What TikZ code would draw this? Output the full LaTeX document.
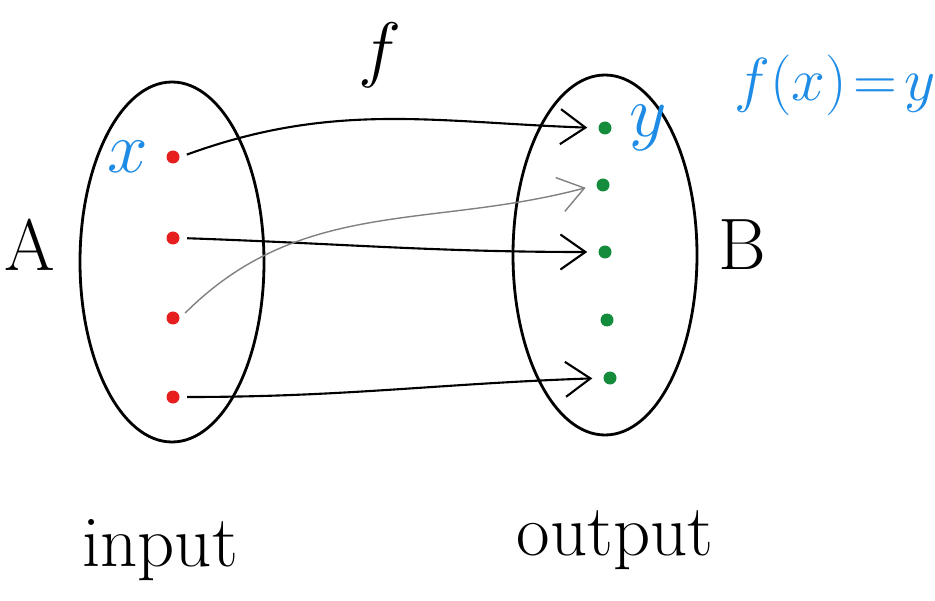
\documentclass[tikz,border=0pt]{standalone}
\usetikzlibrary{arrows.meta,positioning,shapes.geometric}
\definecolor{penblue}{RGB}{30,140,230}
\definecolor{penred}{RGB}{230,30,30}
\definecolor{pengreen}{RGB}{20,140,60}

\begin{document}
\begin{tikzpicture}[
      set/.style={draw,thick,ellipse,minimum width=1.84cm,minimum height=3.6cm},
      dot/.style={circle,inner sep=0pt,minimum size=0.13cm},
      lbl/.style={font=\huge},
      arr/.style={-{Straight Barb[length=2.5mm,width=3.5mm]},semithick,shorten <=2pt,shorten >=3pt}
    ]
      \useasboundingbox (0,0) rectangle (9.35,6);
      % the two sets
      \node[set] (setA) at (1.72,3.38) {};
      \node[set] (setB) at (6.05,3.45) {};
      % inputs
      \node[dot,fill=penred] (a1) at (1.73,4.43) {};
      \node[dot,fill=penred] (a2) at (1.73,3.62) {};
      \node[dot,fill=penred] (a3) at (1.73,2.82) {};
      \node[dot,fill=penred] (a4) at (1.73,2.03) {};
      % outputs
      \node[dot,fill=pengreen] (b1) at (6.05,4.72) {};
      \node[dot,fill=pengreen] (b2) at (6.03,4.15) {};
      \node[dot,fill=pengreen] (b3) at (6.05,3.48) {};
      \node[dot,fill=pengreen] (b4) at (6.07,2.80) {};
      \node[dot,fill=pengreen] (b5) at (6.10,2.22) {};
      % labels
      \node[lbl,text=penblue,left=0.05cm of a1] (xl) {$x$};
      \node[lbl,text=penblue,right=0.05cm of b1] (yl) {$y$};
      \node[lbl] (la) at (0.3,3.55) {A};
      \node[lbl] (lb) at (7.42,3.55) {B};
      \node[lbl] (lf) at (3.8,5.45) {$f$};
      \node[font=\LARGE,text=penblue] (eq) at (8.35,5.15) {$f(x)\!=\!y$};
      \node[lbl] (in) at (1.6,0.5) {input};
      \node[lbl] (out) at (6.15,0.6) {output};
      % the map
      \draw[arr] (a1.east) to[out=20,in=178] (b1.west);
      \draw[arr] (a2.east) to[out=-2,in=180] (b3.west);
      \draw[arr,gray,thin] (a3.east) to[out=45,in=195] (b2.west);
      \draw[arr] (a4.east) to[out=0,in=182] (b5.west);
    \end{tikzpicture}
\end{document}
